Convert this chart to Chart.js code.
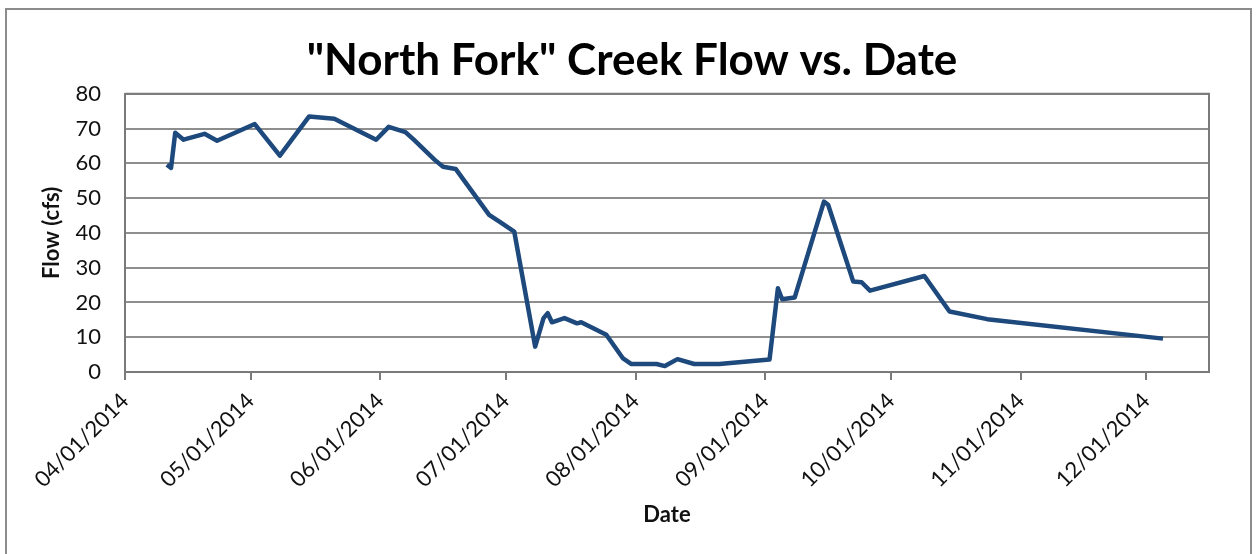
<!DOCTYPE html>
<html>
<head>
<meta charset="utf-8">
<title>North Fork Creek Flow</title>
<script src="https://cdn.jsdelivr.net/npm/chart.js@4.4.1/dist/chart.umd.min.js"></script>
<style>
  html, body { margin: 0; padding: 0; background: #fff; }
  #wrap { width: 1257px; height: 554px; position: relative; }
</style>
</head>
<body>
<div id="wrap"><canvas id="flowChart"></canvas></div>
<script>
// measurement dates and flow readings (cfs)
const sampleDates = [
  '04/11/2014', '04/12/2014', '04/13/2014', '04/15/2014', '04/20/2014', '04/23/2014',
  '05/02/2014', '05/08/2014', '05/15/2014', '05/21/2014', '05/31/2014',
  '06/03/2014', '06/07/2014', '06/09/2014', '06/14/2014', '06/16/2014', '06/19/2014', '06/27/2014', '06/30/2014',
  '07/03/2014', '07/08/2014', '07/10/2014', '07/11/2014', '07/12/2014', '07/15/2014', '07/18/2014', '07/19/2014',
  '07/25/2014', '07/29/2014', '07/31/2014',
  '08/06/2014', '08/08/2014', '08/11/2014', '08/15/2014', '08/21/2014',
  '09/02/2014', '09/04/2014', '09/05/2014', '09/08/2014', '09/15/2014', '09/16/2014', '09/22/2014', '09/24/2014', '09/26/2014',
  '10/09/2014', '10/15/2014', '10/24/2014',
  '12/05/2014'
];
const flowValues = [
  59.6, 58.7, 68.8, 66.8, 68.5, 66.5,
  71.3, 62.2, 73.5, 72.8, 66.8,
  70.5, 69.0, 66.8, 61.0, 59.0, 58.4, 45.2, 42.8,
  40.4, 7.3, 15.5, 16.9, 14.3, 15.5, 14.0, 14.3,
  10.7, 3.9, 2.3,
  2.3, 1.7, 3.7, 2.3, 2.3,
  3.6, 24.1, 20.9, 21.4, 49.0, 48.1, 26.0, 25.8, 23.4,
  27.6, 17.4, 15.2,
  9.6
];
const monthTicks = [
  '04/01/2014', '05/01/2014', '06/01/2014', '07/01/2014', '08/01/2014',
  '09/01/2014', '10/01/2014', '11/01/2014', '12/01/2014'
];
const flowTicks = [0, 10, 20, 30, 40, 50, 60, 70, 80];

// days counted from the first axis date
function dayOf(str) {
    const [m, d, y] = str.split('/').map(Number);
    return Math.round((Date.UTC(y, m - 1, d) - Date.UTC(2014, 3, 1)) / 86400000);
}

const points = sampleDates.map((s, i) => ({ x: dayOf(s), y: flowValues[i] }));

const frame = {
    id: 'frame',
    beforeDraw(chart) {
        const c = chart.ctx;
        c.save();
        c.fillStyle = '#fff';
        c.fillRect(0, 0, chart.width, chart.height);
        c.strokeStyle = '#8c8c8c';
        c.lineWidth = 2;
        c.strokeRect(6, 9, 1245, 560);
        c.restore();
    },
    beforeDatasetsDraw(chart) {
        const a = chart.chartArea;
        const c = chart.ctx;
        c.save();
        c.strokeStyle = '#7a7a7a';
        c.lineWidth = 2;
        c.beginPath();
        c.moveTo(a.left, a.top);
        c.lineTo(a.right, a.top);
        c.lineTo(a.right, a.bottom);
        c.stroke();
        c.restore();
    }
};

const tickFont = { family: 'Lato', size: 22 };
const padLeft = 55;

new Chart(document.getElementById('flowChart'), {
    type: 'line',
    data: {
        datasets: [{
            label: 'Flow (cfs)',
            data: points,
            borderColor: '#1E497D',
            borderWidth: 4.5,
            borderJoinStyle: 'round',
            pointRadius: 0,
            tension: 0,
            fill: false
        }]
    },
    options: {
        responsive: true,
        maintainAspectRatio: false,
        animation: false,
        layout: { padding: { left: padLeft, right: 48, top: 34, bottom: 26 } },
        plugins: {
            legend: { display: false },
            tooltip: { enabled: false },
            title: {
                display: true,
                text: '"North Fork" Creek Flow vs. Date',
                color: '#000',
                font: { family: 'Lato', size: 44, weight: 'bold' },
                padding: { top: 0, bottom: 7 }
            }
        },
        scales: {
            x: {
                type: 'linear',
                min: 0,
                max: 259,
                afterBuildTicks: (scale) => {
                    scale.ticks = monthTicks.map(t => ({ value: dayOf(t) }));
                },
                afterFit: (scale) => { scale.height = 554 - 26 - 372; },
                ticks: {
                    autoSkip: false,
                    maxRotation: 45,
                    minRotation: 45,
                    padding: 8,
                    color: '#111',
                    font: tickFont,
                    callback: (v) => {
                        const m = monthTicks.find(t => dayOf(t) === v);
                        return m || '';
                    }
                },
                grid: {
                    drawOnChartArea: false,
                    drawTicks: true,
                    tickLength: 8,
                    color: '#7a7a7a',
                    lineWidth: 2
                },
                border: { color: '#7a7a7a', width: 2 },
                title: {
                    display: true,
                    text: 'Date',
                    color: '#111',
                    font: { family: 'Lato', size: 22, weight: 'bold' },
                    padding: 0
                }
            },
            y: {
                min: 0,
                max: 80,
                afterBuildTicks: (scale) => {
                    scale.ticks = flowTicks.map(v => ({ value: v }));
                },
                afterFit: (scale) => { scale.width = 125 - padLeft; },
                ticks: {
                    padding: 24,
                    color: '#111',
                    font: tickFont
                },
                grid: {
                    drawTicks: false,
                    color: '#8e8e8e',
                    lineWidth: 2
                },
                border: { color: '#7a7a7a', width: 2 },
                title: {
                    display: true,
                    text: 'Flow (cfs)',
                    color: '#111',
                    font: { family: 'Lato', size: 22, weight: 'bold' },
                    // pull the rotated title back out into the left margin
                    padding: { top: -16, bottom: 0 }
                }
            }
        }
    },
    plugins: [frame]
});
</script>
</body>
</html>
